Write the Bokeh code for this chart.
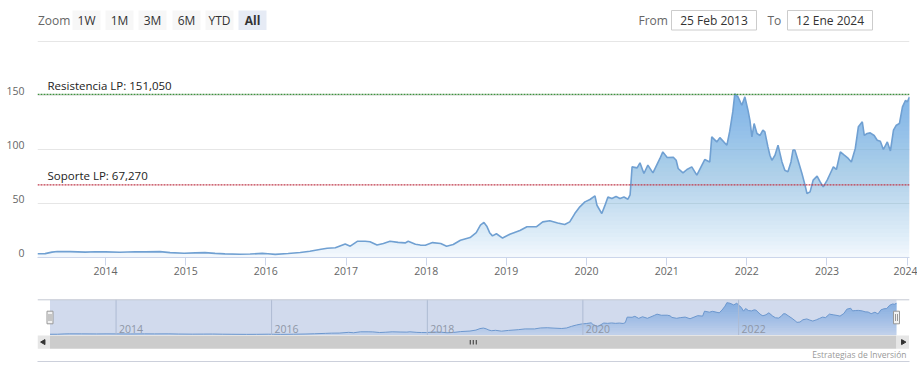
import numpy as np
import pandas as pd
from bokeh.plotting import figure
from bokeh.layouts import column
from bokeh.models import Range1d, Span, Label, FixedTicker, DatetimeTickFormatter
from bokeh.embed import file_html
from bokeh.resources import INLINE
from bokeh.core.properties import value

# ---------------- data ----------------
dates = [
    "2013-02-25", "2013-04-01", "2013-05-02", "2013-05-26", "2013-07-24", "2013-10-01", "2013-11-15",
    "2014-01-01", "2014-03-08", "2014-05-15", "2014-07-01", "2014-09-06", "2014-10-22", "2014-12-25",
    "2015-02-14", "2015-03-30", "2015-05-15", "2015-06-29", "2015-09-05", "2015-10-22", "2015-12-16",
    "2016-01-11", "2016-02-13", "2016-04-12", "2016-06-06", "2016-07-20", "2016-09-09", "2016-10-07",
    "2016-11-13", "2016-12-28",
    "2017-01-20", "2017-02-21", "2017-03-29", "2017-04-20", "2017-05-22", "2017-06-20", "2017-07-20",
    "2017-08-26", "2017-09-27", "2017-10-11", "2017-11-13", "2017-12-05", "2017-12-28",
    "2018-01-30", "2018-03-08", "2018-04-04", "2018-05-04", "2018-06-06", "2018-07-20", "2018-08-17",
    "2018-09-05", "2018-09-21", "2018-10-04", "2018-10-17", "2018-10-30", "2018-11-17", "2018-12-15",
    "2019-01-17", "2019-03-04", "2019-04-05", "2019-05-19", "2019-06-16", "2019-07-18", "2019-08-23",
    "2019-09-24", "2019-10-17", "2019-11-09", "2019-12-02", "2019-12-25",
    "2020-01-17", "2020-02-09", "2020-02-18", "2020-03-11", "2020-03-25", "2020-04-08", "2020-04-26",
    "2020-05-15", "2020-06-02", "2020-06-20", "2020-07-08", "2020-07-18", "2020-07-27", "2020-08-19",
    "2020-09-01", "2020-09-19", "2020-10-07", "2020-10-30", "2020-12-01", "2020-12-14",
    "2021-01-03", "2021-01-31", "2021-02-13", "2021-02-22", "2021-03-16", "2021-04-03", "2021-04-25",
    "2021-05-18", "2021-06-23", "2021-07-16", "2021-07-25", "2021-08-17", "2021-08-31", "2021-10-02",
    "2021-10-15", "2021-10-29", "2021-11-07", "2021-11-21", "2021-12-09", "2021-12-23",
    "2022-01-06", "2022-01-15", "2022-01-24", "2022-02-03", "2022-02-16", "2022-03-02", "2022-03-15",
    "2022-03-24", "2022-04-07", "2022-04-16", "2022-04-25", "2022-05-09", "2022-05-23", "2022-06-10",
    "2022-06-23", "2022-07-07", "2022-07-21", "2022-07-30", "2022-08-08", "2022-08-22", "2022-09-09",
    "2022-09-23", "2022-10-02", "2022-10-16", "2022-10-30", "2022-11-17", "2022-12-01", "2022-12-15",
    "2023-01-02", "2023-01-16", "2023-01-30", "2023-02-13", "2023-03-03", "2023-03-21", "2023-04-08",
    "2023-04-22", "2023-05-10", "2023-05-24", "2023-06-11", "2023-06-20", "2023-07-03", "2023-07-17",
    "2023-08-04", "2023-08-18", "2023-09-01", "2023-09-15", "2023-10-03", "2023-10-17", "2023-10-31",
    "2023-11-13", "2023-11-27", "2023-12-11", "2023-12-25",
    "2024-01-02", "2024-01-12",
]
prices = [
    3.5, 3.6, 5.0, 5.5, 5.4, 5.0, 5.3,
    5.2, 4.8, 5.3, 5.2, 5.4, 4.5, 4.0,
    4.3, 4.5, 3.8, 3.4, 3.0, 3.2, 3.8,
    3.5, 2.9, 3.7, 4.6, 5.8, 7.6, 8.6, 9.0, 12.5,
    10.5, 15.0, 15.0, 14.6, 11.6, 13.0, 15.0, 14.0, 13.5, 15.0, 12.3, 11.5, 11.4,
    13.8, 13.0, 10.5, 12.0, 16.0, 18.5, 23.0, 30.0, 32.5, 29.0, 23.0, 20.0, 22.0, 18.0,
    21.5, 25.0, 28.5, 28.5, 33.0, 34.0, 32.0, 30.5, 33.0, 40.7, 46.9, 51.5,
    53.7, 57.0, 48.4, 40.7, 48.0, 56.0, 54.6, 56.5, 54.6, 56.0, 54.0, 58.0, 83.9, 83.0,
    87.6, 77.8, 85.5, 78.3, 91.7, 97.8,
    92.6, 92.8, 90.0, 82.4, 78.3, 81.5, 83.9, 76.2, 90.7, 88.5, 111.7, 107.0, 111.0, 104.0,
    117.0, 135.0, 151.5, 149.0, 141.0, 148.7,
    136.4, 127.0, 111.7, 124.0, 114.8, 113.0, 117.9, 116.3, 102.4, 94.7, 90.0, 94.7, 104.0, 88.5,
    80.8, 79.3, 88.5, 99.4, 99.4, 90.0, 77.8, 67.0, 59.3, 60.8, 71.6, 75.3, 70.0, 65.4,
    71.6, 77.8, 83.9, 81.5, 97.8, 94.7, 91.7, 88.5, 101.0, 121.0, 125.6, 113.0, 114.8, 115.4,
    113.0, 108.6, 107.6, 100.0, 107.0, 98.7, 117.9, 122.5, 124.0, 139.4, 145.6,
    144.0, 148.7,
]
resistance = 151.05
support = 67.27
resistance_label = "Resistencia LP: 151,050"
support_label = "Soporte LP: 67,270"
y_ticks = [0, 50, 100, 150]
y_grid = [0, 50, 100, 150, 200]
x_years = list(range(2014, 2025))
nav_years = [2014, 2016, 2018, 2020, 2022]
zoom_label = "Zoom"
zoom_buttons = ["1W", "1M", "3M", "6M", "YTD", "All"]
selected_button = "All"
from_label, date_from = "From", "25 Feb 2013"
to_label, date_to = "To", "12 Ene 2024"
credit = "Estrategias de Inversión"

# ---------------- style ----------------
FONT = "Open Sans"
BLUE = "#7cb5ec"
LINE = "#70a0d2"
GRID = "#e6e6e6"
AXIS = "#ccd6eb"
LABEL = "#666666"
W = 917
FL, FR = 37, 909          # shared frame (page x) of all three stacked figures
LABEL_LIFT = 4.0          # y-axis labels sit just above their grid line

t = pd.to_datetime(pd.Series(dates)).values.astype("datetime64[ms]").astype("int64").astype(float)
v = np.array(prices, dtype=float)


def yms(y):
    return float(np.datetime64(f"{y}-01-01", "ms").astype("int64"))


def gradient_area(fig, xs, ys, top, n, a0, a1, gamma, **kw):
    levels = np.linspace(0, top, n + 1)[:-1]
    step = top / n
    prev = 0.0
    for L in levels:
        c = a0 + (a1 - a0) * ((L + step / 2) / top) ** gamma
        a = (c - prev) / (1 - prev)
        prev = c
        fig.varea(x=xs, y1=np.minimum(ys, L), y2=ys, fill_color=BLUE, fill_alpha=float(a), **kw)


def ui_figure(h):
    f = figure(width=W, height=h, x_range=Range1d(FL, FR), y_range=Range1d(h, 0),
               min_border_left=FL, min_border_right=W - FR, min_border_top=0, min_border_bottom=0,
               x_axis_location=None, y_axis_location=None,
               toolbar_location=None, output_backend="svg", outline_line_color=None)
    f.grid.visible = False
    return f


# ---------------- top bar (range selector / inputs) ----------------
bar = ui_figure(40)
btn_left = [72, 105, 138, 172, 205, 238]
btn_w = 28
bar.quad(left=btn_left, right=[b + btn_w for b in btn_left], top=10, bottom=29.5,
         fill_color=["#e6ebf5" if b == selected_button else "#f7f7f7" for b in zoom_buttons],
         line_color=None)
bar.text(x=[b + btn_w / 2 for b in btn_left], y=19.8, text=zoom_buttons,
         text_font=value(FONT), text_font_size="12px", text_align="center", text_baseline="middle",
         text_color="#333333",
         text_font_style=["bold" if b == selected_button else "normal" for b in zoom_buttons])
bar.text(x=[37.5], y=19.8, text=[zoom_label], text_font=value(FONT), text_font_size="12px",
         text_align="left", text_baseline="middle", text_color=LABEL)
bar.quad(left=[671, 787], right=[756, 872], top=10, bottom=29.5, fill_color="white",
         line_color="#cccccc", line_width=1)
bar.text(x=[638, 767], y=19.8, text=[from_label, to_label], text_font=value(FONT),
         text_font_size="12px", text_align="left", text_baseline="middle", text_color=LABEL)
bar.text(x=[713.5, 829.5], y=19.8, text=[date_from, date_to], text_font=value(FONT),
         text_font_size="12px", text_align="center", text_baseline="middle", text_color="#333333")

# ---------------- main chart ----------------
Y_TOP = 200.92
main = figure(width=W, height=250, x_axis_type="datetime",
              x_range=Range1d(t[0], t[-1]), y_range=Range1d(0, Y_TOP),
              output_backend="svg", toolbar_location=None,
              min_border_left=FL, min_border_right=W - FR, min_border_top=0, min_border_bottom=33)
main.outline_line_color = None
main.xgrid.visible = False
main.ygrid.ticker = FixedTicker(ticks=y_grid)
main.ygrid.grid_line_color = GRID

gradient_area(main, t, v, max(prices), 40, 0.07, 0.93, 0.85)
main.line(t, v, line_color=LINE, line_width=1.6)

main.add_layout(Span(location=resistance, dimension="width", line_color="#3f8f3f",
                     line_dash="2 1", line_width=1.3))
main.add_layout(Span(location=support, dimension="width", line_color="#c0394a",
                     line_dash="2 1", line_width=1.3))
main.add_layout(Label(x=t[0], y=resistance, x_offset=10, y_offset=1.5, text=resistance_label,
                      text_font=FONT, text_font_size="11.5px", text_color="#222222",
                      text_baseline="bottom"))
main.add_layout(Label(x=t[0], y=support, x_offset=10, y_offset=1.5, text=support_label,
                      text_font=FONT, text_font_size="11.5px", text_color="#222222",
                      text_baseline="bottom"))

ya = main.yaxis[0]
ya.ticker = FixedTicker(ticks=[y + LABEL_LIFT for y in y_ticks])
ya.major_label_overrides = {y + LABEL_LIFT: str(y) for y in y_ticks}
ya.axis_line_color = None
ya.major_tick_line_color = None
ya.major_tick_out = 0
ya.major_tick_in = 0
ya.minor_tick_line_color = None
ya.minor_tick_out = 0
ya.major_label_standoff = 13
ya.major_label_text_font = FONT
ya.major_label_text_font_size = "10.5px"
ya.major_label_text_color = LABEL

xa = main.xaxis[0]
xa.ticker = FixedTicker(ticks=[yms(y) for y in x_years])
xa.formatter = DatetimeTickFormatter(years="%Y", months="%Y", days="%Y")
xa.axis_line_color = AXIS
xa.major_tick_line_color = AXIS
xa.major_tick_out = 8
xa.major_tick_in = 0
xa.minor_tick_line_color = None
xa.major_label_standoff = 1
xa.major_label_text_font = FONT
xa.major_label_text_font_size = "10.5px"
xa.major_label_text_color = LABEL

# ---------------- navigator + scrollbar ----------------
NH = 86
nav = ui_figure(NH)
NAV_L, NAV_R, NAV_T, NAV_B = 49.5, 896.0, 9.3, 44.5
ppx = (NAV_R - NAV_L) / (t[-1] - t[0])
nav.extra_x_ranges = {"nx": Range1d(t[0] - (NAV_L - FL) / ppx, t[0] + (FR - NAV_L) / ppx)}
NAV_VMAX = 165.0
ppv = (NAV_B - NAV_T) / NAV_VMAX
nav.extra_y_ranges = {"ny": Range1d(-(NH - NAV_B) / ppv, NAV_VMAX + NAV_T / ppv)}

gradient_area(nav, t, v, max(prices), 14, 0.15, 0.8, 0.9, x_range_name="nx", y_range_name="ny")
nav.line(t, v, line_color=LINE, line_width=1, x_range_name="nx", y_range_name="ny")
# mask of the selected range
nav.quad(left=NAV_L, right=NAV_R, top=NAV_T, bottom=NAV_B, fill_color="#6685c2",
         fill_alpha=0.3, line_color=None)
ny_x = [yms(y) for y in nav_years]
nav.segment(x0=ny_x, x1=ny_x, y0=0, y1=NAV_VMAX, line_color="#aebbd3", line_width=1,
            x_range_name="nx", y_range_name="ny")
nav.text(x=ny_x, y=[NAV_VMAX * 0.06] * len(ny_x), text=[str(y) for y in nav_years],
         x_offset=3, text_font=value(FONT), text_font_size="10.5px", text_color="#8e96a6",
         text_baseline="bottom", text_align="left", x_range_name="nx", y_range_name="ny")
# outline
nav.segment(x0=FL, x1=FR, y0=NAV_T, y1=NAV_T, line_color="#c4c8d2", line_width=1)
# handles
for hx in (NAV_L, NAV_R):
    nav.quad(left=hx - 3, right=hx + 3, top=20.7, bottom=33.3, fill_color="#f2f2f2",
             line_color="#999999", line_width=1)
    nav.segment(x0=[hx - 1, hx + 1], x1=[hx - 1, hx + 1], y0=23.5, y1=30.5,
                line_color="#999999", line_width=1)
# scrollbar
nav.quad(left=NAV_L, right=NAV_R, top=45, bottom=58.3, fill_color="#cccccc", line_color=None)
nav.quad(left=[FL, NAV_R], right=[NAV_L, FR - 0.5], top=45, bottom=58.3, fill_color="#e6e6e6",
         line_color=None)
nav.scatter(x=[43, 902.5], y=[51.6, 51.6], marker="triangle", size=5,
            angle=[np.pi / 2, -np.pi / 2], fill_color="#333333", line_color="#333333")
gx = (NAV_L + NAV_R) / 2
nav.segment(x0=[gx - 3, gx, gx + 3], x1=[gx - 3, gx, gx + 3], y0=49.5, y1=54,
            line_color="#333333", line_width=1)
# bottom rule and credit
nav.segment(x0=0, x1=W, y0=71, y1=71, line_color="#ccd0db", line_width=1)
nav.text(x=[906], y=[63.5], text=[credit], text_font=value(FONT), text_font_size="8.5px",
         text_color="#999999", text_align="right", text_baseline="middle")

layout = column(bar, main, nav, spacing=0)
open("out.html", "w").write(file_html(layout, INLINE))
